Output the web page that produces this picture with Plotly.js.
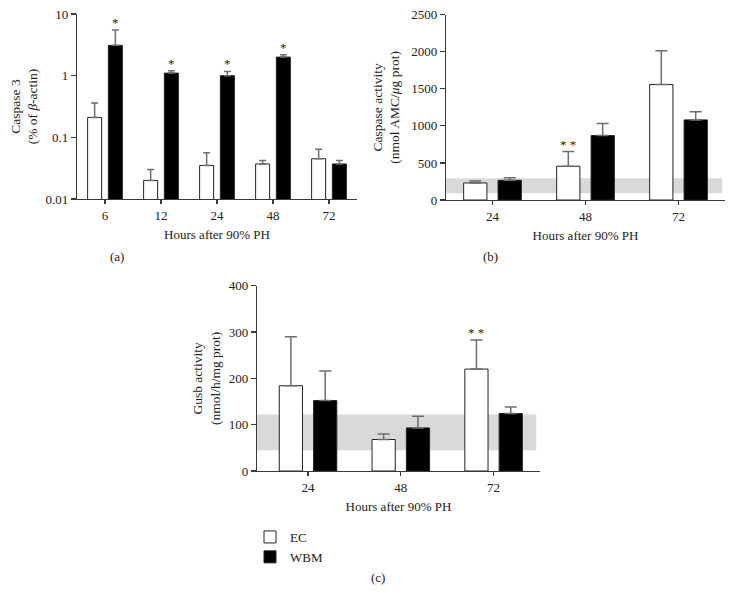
<!DOCTYPE html>
<html>
<head>
<meta charset="utf-8">
<script src="https://cdn.plot.ly/plotly-3.0.1.min.js"></script>
<style>html,body{margin:0;padding:0;background:#fff;}#chart{width:734px;height:593px;}</style>
</head>
<body>
<div id="chart"></div>
<script>
// ---------- Data ----------
// (a) Caspase 3 expression (% of beta-actin), log scale
const hoursA = ["6", "12", "24", "48", "72"];
const caspase3EC = [0.21, 0.020, 0.035, 0.037, 0.045];
const caspase3ECErr = [0.15, 0.010, 0.021, 0.005, 0.019];
const caspase3WBM = [3.1, 1.1, 1.0, 2.0, 0.037];
const caspase3WBMErr = [2.4, 0.10, 0.17, 0.18, 0.005];
const caspase3WBMStars = ["*", "*", "*", "*", ""];

// (b) Caspase activity (nmol AMC/µg prot)
const hoursB = ["24", "48", "72"];
const caspActEC = [230, 455, 1558];
const caspActECErr = [27, 198, 456];
const caspActWBM = [266, 869, 1081];
const caspActWBMErr = [35, 162, 108];
const caspActECStars = ["", "* *", ""];
const caspActNormalRange = [90, 293];

// (c) Gusb activity (nmol/h/mg prot)
const hoursC = ["24", "48", "72"];
const gusbEC = [184, 68, 220];
const gusbECErr = [106, 12, 63];
const gusbWBM = [152, 93, 124];
const gusbWBMErr = [64, 25, 14];
const gusbECStars = ["", "", "* *"];
const gusbNormalRange = [45, 122];

const seriesNames = ["EC", "WBM"];
const panelLabels = ["(a)", "(b)", "(c)"];

// ---------- Styling ----------
const FONT = "Liberation Serif, Times New Roman, serif";
const AXIS_COLOR = "#3a3a3a";
const ERR_COLOR = "#6e6e6e";
const EC_OFFSET = -0.31, WBM_OFFSET = 0.06, BAR_W = 0.25;

function barTrace(x, y, err, name, isEC, xa, ya, showlegend, capHalf) {
  return {
    type: "bar", x: x, y: y, name: name,
    xaxis: xa, yaxis: ya,
    offset: isEC ? EC_OFFSET : WBM_OFFSET, width: BAR_W,
    marker: {color: isEC ? "#ffffff" : "#000000", line: {color: "#222222", width: 1}},
    error_y: {type: "data", symmetric: false, array: err, arrayminus: err.map(() => 0),
              color: ERR_COLOR, thickness: 1.5, width: capHalf},
    showlegend: showlegend, legendgroup: name, hoverinfo: "x+y"
  };
}

const traces = [
  barTrace(hoursA, caspase3EC, caspase3ECErr, seriesNames[0], true, "x", "y", false, 3.5),
  barTrace(hoursA, caspase3WBM, caspase3WBMErr, seriesNames[1], false, "x", "y", false, 3.5),
  barTrace(hoursB, caspActEC, caspActECErr, seriesNames[0], true, "x2", "y2", false, 6),
  barTrace(hoursB, caspActWBM, caspActWBMErr, seriesNames[1], false, "x2", "y2", false, 6),
  barTrace(hoursC, gusbEC, gusbECErr, seriesNames[0], true, "x3", "y3", true, 6),
  barTrace(hoursC, gusbWBM, gusbWBMErr, seriesNames[1], false, "x3", "y3", true, 6)
];

function xAxis(domain, range, anchor) {
  return {
    domain: domain, anchor: anchor, type: "category", range: range,
    showline: true, linecolor: AXIS_COLOR, linewidth: 1.2,
    ticks: "outside", ticklen: 4, tickwidth: 1.2, tickcolor: AXIS_COLOR,
    showgrid: false, zeroline: false, fixedrange: true,
    tickfont: {family: FONT, size: 13, color: "#222"},
    title: {text: "Hours after 90% PH", font: {family: FONT, size: 13, color: "#222"}, standoff: 8}
  };
}
function yAxis(domain, range, anchor, title, standoff, extra) {
  return Object.assign({
    domain: domain, anchor: anchor, range: range,
    showline: true, linecolor: AXIS_COLOR, linewidth: 1.2,
    ticks: "outside", ticklen: 5, tickwidth: 1.2, tickcolor: AXIS_COLOR,
    showgrid: false, zeroline: false, fixedrange: true,
    tickfont: {family: FONT, size: 13, color: "#222"},
    title: {text: title, font: {family: FONT, size: 13.5, color: "#222"}, standoff: standoff}
  }, extra || {});
}

const W = 734, H = 593;
const px = v => v / W, py = v => 1 - v / H;

const layout = {
  width: W, height: H,
  margin: {l: 0, r: 0, t: 0, b: 0},
  paper_bgcolor: "#fff", plot_bgcolor: "rgba(0,0,0,0)",
  barmode: "overlay",
  font: {family: FONT, size: 13, color: "#222"},
  xaxis: xAxis([px(77), px(357)], [-0.5, 4.5], "y"),
  yaxis: yAxis([py(199), py(14)], [-2, 1], "x", "Caspase 3<br>(% of <i>β</i>-actin)", 4,
               {type: "log", dtick: 1, exponentformat: "none"}),
  xaxis2: xAxis([px(446), px(725)], [-0.5, 2.5], "y2"),
  yaxis2: yAxis([py(200), py(14.7)], [0, 2500], "x2", "Caspase activity<br>(nmol AMC/<i>μ</i>g prot)", 8,
                {dtick: 500}),
  xaxis3: xAxis([px(257), px(540)], [-0.55, 2.5], "y3"),
  yaxis3: yAxis([py(471), py(285.7)], [0, 400], "x3", "Gusb activity<br>(nmol/h/mg prot)", 5,
                {dtick: 100}),
  shapes: [
    {type: "rect", layer: "below", xref: "x2 domain", yref: "y2", x0: 0, x1: 0.99,
     y0: caspActNormalRange[0], y1: caspActNormalRange[1], fillcolor: "#d9d9d9", line: {width: 0}},
    {type: "rect", layer: "below", xref: "x3 domain", yref: "y3", x0: 0, x1: 0.987,
     y0: gusbNormalRange[0], y1: gusbNormalRange[1], fillcolor: "#d9d9d9", line: {width: 0}}
  ],
  showlegend: true,
  legend: {x: px(250), y: py(522), xanchor: "left", yanchor: "top", bgcolor: "rgba(0,0,0,0)",
           font: {family: FONT, size: 13, color: "#222"}, tracegroupgap: 0},
  annotations: []
};

// significance stars
function addStars(stars, vals, errs, offset, xref, yref, isLog) {
  stars.forEach((s, i) => {
    if (!s) return;
    const top = vals[i] + errs[i];
    layout.annotations.push({
      xref: xref, yref: yref, x: i + offset + BAR_W / 2, y: isLog ? Math.log10(top) : top,
      text: s, showarrow: false, yanchor: "bottom", yshift: -2,
      font: {family: FONT, size: 13, color: "#222"}
    });
  });
}
addStars(caspase3WBMStars, caspase3WBM, caspase3WBMErr, WBM_OFFSET, "x", "y", true);
addStars(caspActECStars, caspActEC, caspActECErr, EC_OFFSET, "x2", "y2", false);
addStars(gusbECStars, gusbEC, gusbECErr, EC_OFFSET, "x3", "y3", false);

// panel labels
[[117, 257], [490, 257], [378, 577]].forEach((p, i) => {
  layout.annotations.push({xref: "paper", yref: "paper", x: px(p[0]), y: py(p[1]),
    text: panelLabels[i], showarrow: false, xanchor: "center", yanchor: "middle",
    font: {family: FONT, size: 13, color: "#222"}});
});

Plotly.newPlot("chart", traces, layout, {displayModeBar: false, staticPlot: true});
</script>
</body>
</html>
